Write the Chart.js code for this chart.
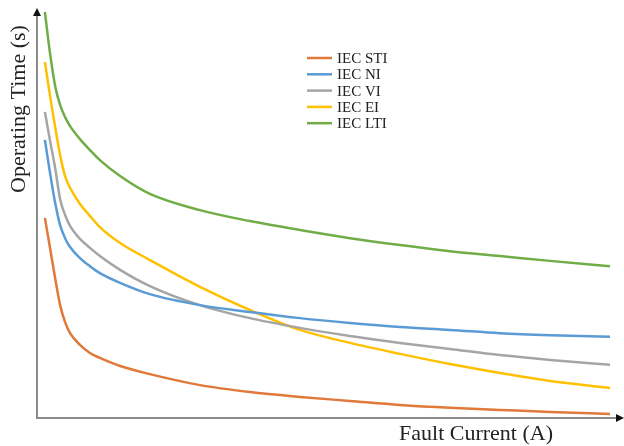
<!DOCTYPE html>
<html>
<head>
<meta charset="utf-8">
<script src="https://cdn.jsdelivr.net/npm/chart.js@4.4.0/dist/chart.umd.min.js"></script>
<style>
  html, body { margin: 0; padding: 0; background: #fff; }
  #wrap { width: 624px; height: 446px; }
</style>
</head>
<body>
<div id="wrap"><canvas id="chart" width="624" height="446"></canvas></div>
<script>
// fault current (arbitrary units, no ticks shown)
const current = [0.27, 0.44, 0.62, 0.79, 0.96, 1.13, 1.47, 1.81, 2.15, 2.84, 3.86, 5.57, 7.28, 8.99, 10.70, 12.41, 14.12, 15.83, 17.54, 19.59];

// operating time (s, arbitrary scale)
const sti = [4.93, 4.21, 3.45, 2.78, 2.36, 2.09, 1.80, 1.60, 1.48, 1.28, 1.08, 0.81, 0.64, 0.52, 0.42, 0.32, 0.25, 0.20, 0.15, 0.10];
const ni  = [6.85, 6.06, 5.30, 4.75, 4.43, 4.21, 3.94, 3.74, 3.57, 3.33, 3.05, 2.78, 2.61, 2.46, 2.34, 2.24, 2.17, 2.09, 2.04, 2.00];
const vi  = [7.54, 6.85, 6.16, 5.39, 5.00, 4.73, 4.41, 4.19, 3.99, 3.65, 3.25, 2.78, 2.46, 2.22, 2.02, 1.85, 1.70, 1.55, 1.43, 1.31];
const ei  = [8.77, 7.96, 7.17, 6.48, 5.96, 5.67, 5.27, 4.98, 4.70, 4.31, 3.89, 3.23, 2.66, 2.17, 1.85, 1.58, 1.33, 1.11, 0.91, 0.74];
const lti = [10.00, 9.01, 8.18, 7.71, 7.41, 7.19, 6.87, 6.60, 6.35, 5.96, 5.52, 5.12, 4.85, 4.63, 4.43, 4.26, 4.11, 3.99, 3.87, 3.74];

const labels = ["IEC STI", "IEC NI", "IEC VI", "IEC EI", "IEC LTI"];
const colors = ["#E0793A", "#5B9BD5", "#A5A5A5", "#FFC000", "#70AD47"];
const series = [sti, ni, vi, ei, lti];

const serif = "'Liberation Serif', 'Times New Roman', serif";

// axes with arrows, titles and the legend drawn by hand
const decor = {
  id: "decor",
  afterDraw(chart) {
    const ctx = chart.ctx;
    const a = chart.chartArea;
    ctx.save();
    ctx.strokeStyle = "#8c8c8c";
    ctx.lineWidth = 2;
    ctx.beginPath();
    ctx.moveTo(a.left, a.top + 2);
    ctx.lineTo(a.left, a.bottom);
    ctx.lineTo(a.right - 2, a.bottom);
    ctx.stroke();

    ctx.fillStyle = "#111";
    ctx.beginPath();
    ctx.moveTo(a.left, a.top - 4);
    ctx.lineTo(a.left - 4, a.top + 4);
    ctx.lineTo(a.left + 4, a.top + 4);
    ctx.fill();
    ctx.beginPath();
    ctx.moveTo(a.right + 2, a.bottom);
    ctx.lineTo(a.right - 6, a.bottom - 4);
    ctx.lineTo(a.right - 6, a.bottom + 4);
    ctx.fill();

    ctx.fillStyle = "#222";
    ctx.font = "22px " + serif;
    ctx.textBaseline = "middle";
    ctx.textAlign = "center";
    ctx.fillText("Fault Current (A)", 476, 434);
    ctx.save();
    ctx.translate(19, 109);
    ctx.rotate(-Math.PI / 2);
    ctx.fillText("Operating Time (s)", 0, 0);
    ctx.restore();

    // legend
    ctx.font = "15px " + serif;
    ctx.textAlign = "left";
    chart.data.datasets.forEach((ds, i) => {
      const y = 58 + i * 16.3;
      ctx.strokeStyle = ds.borderColor;
      ctx.lineWidth = 2.5;
      ctx.beginPath();
      ctx.moveTo(307, y);
      ctx.lineTo(332, y);
      ctx.stroke();
      ctx.fillStyle = "#222";
      ctx.fillText(ds.label, 337, y + 1);
    });
    ctx.restore();
  }
};

new Chart(document.getElementById("chart"), {
  type: "line",
  data: {
    datasets: series.map((s, i) => ({
      label: labels[i],
      data: s.map((v, j) => ({ x: current[j], y: v })),
      borderColor: colors[i],
      borderWidth: 2.5,
      pointRadius: 0,
      cubicInterpolationMode: "monotone",
      fill: false,
      clip: false
    }))
  },
  options: {
    responsive: false,
    animation: false,
    layout: { padding: { left: 37, top: 12, right: 2, bottom: 28 } },
    plugins: { legend: { display: false }, tooltip: { enabled: false } },
    scales: {
      x: { type: "linear", min: 0, max: 20, display: false },
      y: { min: 0, max: 10, display: false }
    }
  },
  plugins: [decor]
});
</script>
</body>
</html>
